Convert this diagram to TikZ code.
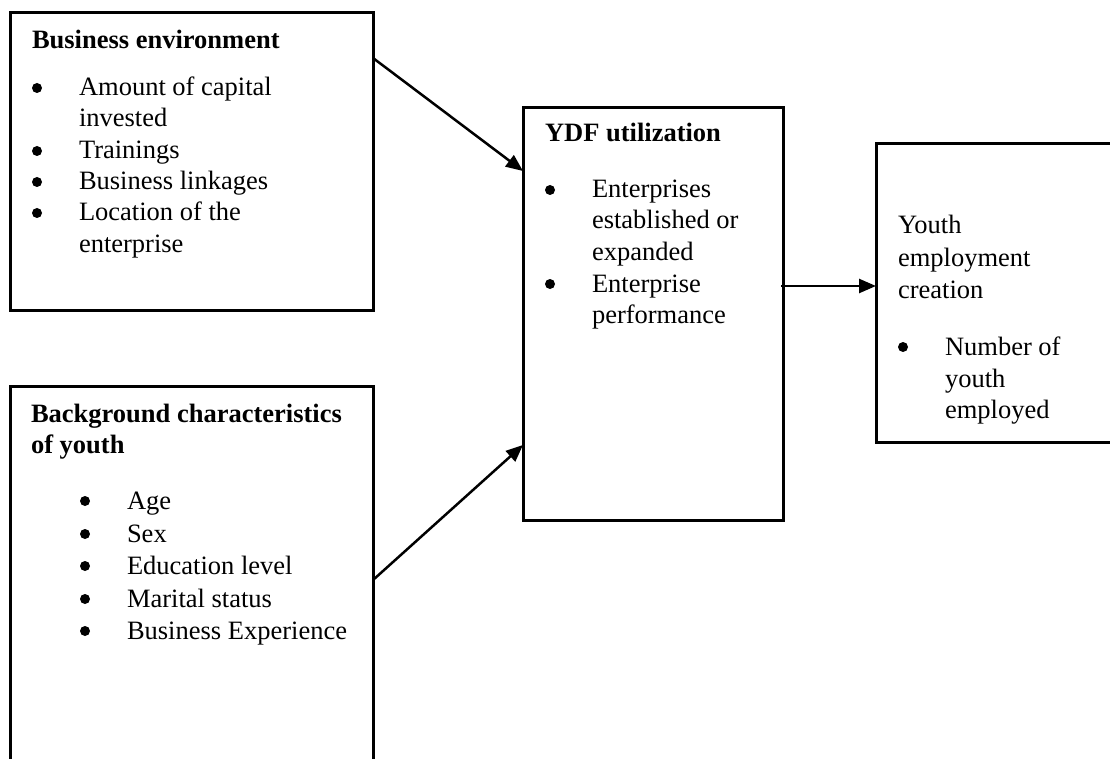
\documentclass[tikz,border=0pt]{standalone}
\usepackage{fontspec}
\setmainfont{Liberation Serif}
\usetikzlibrary{arrows.meta}
\begin{document}
\begin{tikzpicture}[x=1pt,y=-1pt,
  box/.style={draw=black,line width=3pt,anchor=north west,outer sep=0pt,inner sep=0pt},
  txt/.style={anchor=base west,inner sep=0pt,outer sep=0pt,font=\fontsize{26.5}{31.5}\selectfont},
  btxt/.style={txt,font=\fontsize{26.5}{31.5}\selectfont\bfseries},
  dot/.style={circle,fill=black,draw=none,minimum size=10pt,inner sep=0pt},
  conn/.style={line width=2.5pt,-{Triangle[length=17pt,width=14pt]}}]
\useasboundingbox (0,0) rectangle (1110,759);
\clip (0,0) rectangle (1110,759);
% boxes
\node[box,minimum width=363pt,minimum height=297pt] (env) at (10,13) {};
\node[box,minimum width=363pt,minimum height=400pt] (bg) at (10,386) {};
\node[box,minimum width=260pt,minimum height=412pt] (ydf) at (523,108) {};
\node[box,minimum width=260pt,minimum height=298pt] (youth) at (876,144) {};
% Business environment
\node[btxt] (envt) at (32,49) {Business environment};
\node[dot] (envd1) at (37,88) {};
\node[txt] (env1a) at (79,96) {Amount of capital};
\node[txt] (env1b) at (79,127) {invested};
\node[dot] (envd2) at (37,151) {};
\node[txt] (env2) at (79,159) {Trainings};
\node[dot] (envd3) at (37,182) {};
\node[txt] (env3) at (79,190) {Business linkages};
\node[dot] (envd4) at (37,213) {};
\node[txt] (env4a) at (79,221) {Location of the};
\node[txt] (env4b) at (79,252) {enterprise};
% Background
\node[btxt] (bgt1) at (31,422) {Background characteristics};
\node[btxt] (bgt2) at (31,453) {of youth};
\node[dot] (bgd1) at (85,501) {};
\node[txt] (bg1) at (127,509) {Age};
\node[dot] (bgd2) at (85,534) {};
\node[txt] (bg2) at (127,542) {Sex};
\node[dot] (bgd3) at (85,566) {};
\node[txt] (bg3) at (127,574) {Education level};
\node[dot] (bgd4) at (85,599) {};
\node[txt] (bg4) at (127,607) {Marital status};
\node[dot] (bgd5) at (85,631) {};
\node[txt] (bg5) at (127,639) {Business Experience};
% YDF
\node[btxt] (ydft) at (545,142) {YDF utilization};
\node[dot] (ydfd1) at (550,190) {};
\node[txt] (ydf1a) at (592,198) {Enterprises};
\node[txt] (ydf1b) at (592,229) {established or};
\node[txt] (ydf1c) at (592,260) {expanded};
\node[dot] (ydfd2) at (550,284) {};
\node[txt] (ydf2a) at (592,292) {Enterprise};
\node[txt] (ydf2b) at (592,323) {performance};
% Youth
\node[txt] (yt1) at (898,234) {Youth};
\node[txt] (yt2) at (898,266) {employment};
\node[txt] (yt3) at (898,298) {creation};
\node[dot] (yd1) at (903,347) {};
\node[txt] (y1a) at (945,355) {Number of};
\node[txt] (y1b) at (945,387) {youth};
\node[txt] (y1c) at (945,418) {employed};
% connectors
\draw[conn] ([yshift=-45pt]env.north east) -- ([yshift=-63pt]ydf.north west);
\draw[conn] ([yshift=-194pt]bg.north east) -- ([yshift=-337pt]ydf.north west);
\draw[conn] ([xshift=-2pt,yshift=-178pt]ydf.north east) -- ([yshift=-142pt]youth.north west);
\end{tikzpicture}
\end{document}
